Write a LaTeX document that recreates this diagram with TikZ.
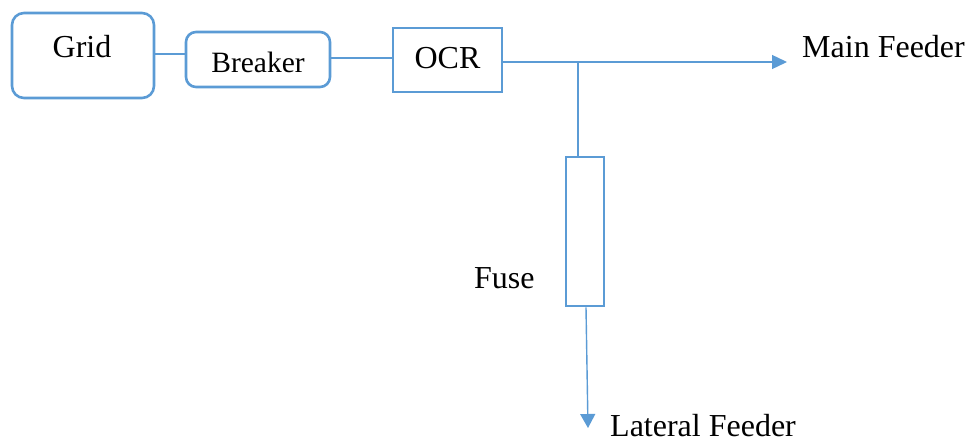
\documentclass[tikz,border=0pt]{standalone}
\usepackage{fontspec}
\setmainfont{Liberation Serif}
\usetikzlibrary{arrows.meta}
\definecolor{wire}{RGB}{91,155,213}
\tikzset{
  box/.style={draw=wire, line width=2.6pt, fill=none, inner sep=0pt},
  rbox/.style={box, rounded corners=12pt},
  wireline/.style={draw=wire, line width=1.4pt},
  feed/.style={wireline, -{Triangle[length=15pt,width=14pt]}},
  lbl/.style={font=\fontsize{32}{36}\selectfont, anchor=base, inner sep=0pt, text=black}
}
\begin{document}
\begin{tikzpicture}[x=1pt,y=-1pt]
\useasboundingbox (0,0) rectangle (967,444);

% boxes
\node[rbox, minimum width=142pt, minimum height=85pt] (grid) at (83,55.5) {};
\node[rbox, rounded corners=10pt, minimum width=144pt, minimum height=55pt] (breaker) at (258,59.5) {};
\node[box, minimum width=109pt, minimum height=64pt] (ocr) at (447.5,60) {};
\node[box, minimum width=38pt, minimum height=149pt] (fuse) at (585,231.5) {};

% labels
\node[lbl] (gridtxt) at (82,58) {Grid};
\node[lbl, font=\fontsize{29.5}{34}\selectfont] (breakertxt) at (258,73) {Breaker};
\node[lbl] (ocrtxt) at (447.5,69) {OCR};
\node[lbl, anchor=base west] (maintxt) at (802,58) {Main Feeder};
\node[lbl, anchor=base west] (fusetxt) at (474,288) {Fuse};
\node[lbl, anchor=base west] (lattxt) at (610,436) {Lateral Feeder};

% connector end points
\coordinate (mainend) at (787,62);
\coordinate (tap) at (578,62);
\coordinate (latend) at (588,428);

% connectors
\draw[wireline] (grid.east |- 0,54) -- (breaker.west |- 0,54);
\draw[wireline] (breaker.east |- 0,58) -- (ocr.west |- 0,58);
\draw[feed] (ocr.east |- mainend) -- (mainend);
\draw[wireline] (tap) -- (fuse.north -| tap);
\draw[wireline, -{Triangle[length=14pt,width=15pt]}] (fuse.south) ++(1,0) -- (latend);
\end{tikzpicture}
\end{document}
